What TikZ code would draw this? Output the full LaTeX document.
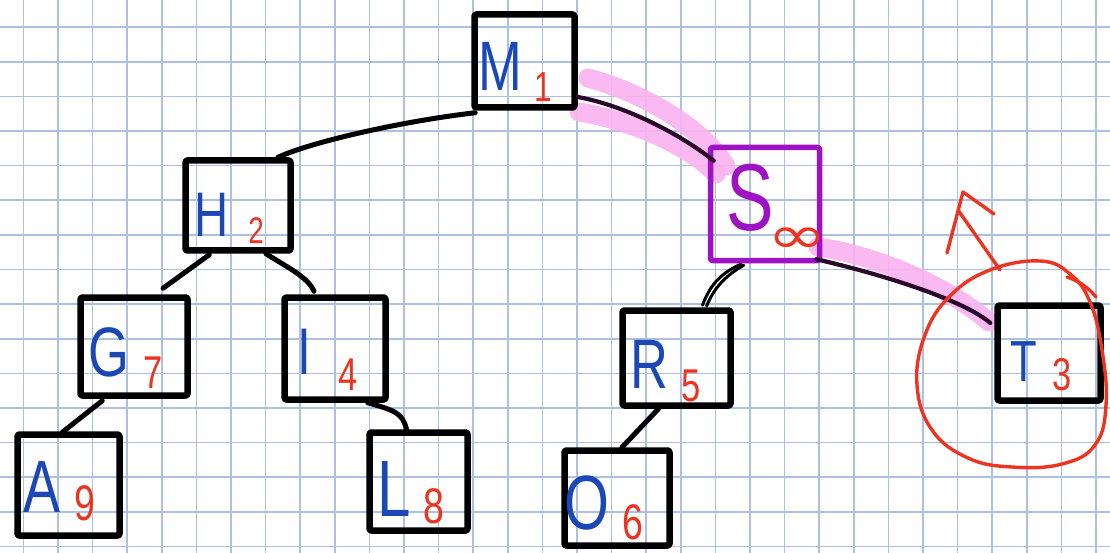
\documentclass[tikz,border=0pt]{standalone}
\usepackage{fontspec}
\setmainfont[FakeStretch=0.75]{Liberation Sans}
\newfontfamily\symfont{DejaVu Sans}
\usetikzlibrary{calc}
\definecolor{gridblue}{RGB}{172,192,226}
\definecolor{inkblue}{RGB}{28,72,182}
\definecolor{inkred}{RGB}{236,52,32}
\definecolor{inkpurple}{RGB}{158,18,196}
\definecolor{hilite}{RGB}{250,178,240}
\definecolor{darkink}{RGB}{42,8,42}
\begin{document}
\begin{tikzpicture}[x=1pt,y=-1pt,
  gridline/.style={draw=gridblue, line width=1.6pt},
  box/.style={draw=black, line width=6.5pt, rounded corners=2pt, inner sep=0pt, line join=round},
  sbox/.style={box, draw=inkpurple, line width=5.5pt},
  edge/.style={draw=black, line width=5pt, line cap=round},
  thinedge/.style={draw=black, line width=3pt, line cap=round},
  markedge/.style={draw=darkink, line width=4.2pt, line cap=round},
  marker/.style={draw=hilite, line width=19pt, line cap=round, opacity=0.9},
  redpen/.style={draw=inkred, line width=3.4pt, line cap=round, line join=round},
  lt/.style={text=inkblue, inner sep=0pt, font=\fontsize{#1}{#1}\selectfont},
  nm/.style={text=inkred, inner sep=0pt, font=\fontsize{#1}{#1}\selectfont}
]
\useasboundingbox (0,0) rectangle (1110,553);
\fill[white] (0,0) rectangle (1110,553);

% squared paper
\foreach \i in {0,...,31}
  \draw[gridline] ({23.3+34.6*\i},0) -- ({23.3+34.6*\i},553);
\foreach \j in {0,...,15}
  \draw[gridline] (0,{27.3+34.6*\j}) -- (1110,{27.3+34.6*\j});

% highlighter strokes along the marked path
\draw[marker] (588,78) .. controls (640,92) and (700,125) .. (726,166);
\draw[marker] (579,112) .. controls (630,120) and (690,146) .. (716,174);
\draw[marker] (818,247) .. controls (880,256) and (950,288) .. (989,322);

% tree nodes
\node[box, minimum width=100pt, minimum height=93pt] (M) at (524.5,61) {};
\node[box, minimum width=105pt, minimum height=90pt] (H) at (238,205.5) {};
\node[sbox, minimum width=109pt, minimum height=113pt] (S) at (765,204) {};
\node[box, minimum width=107pt, minimum height=98pt] (G) at (134,346.5) {};
\node[box, minimum width=101pt, minimum height=102pt] (I) at (335,348.5) {};
\node[box, minimum width=102pt, minimum height=101pt] (A) at (68.5,485) {};
\node[box, minimum width=98pt, minimum height=98pt] (L) at (418.5,481.5) {};
\node[box, minimum width=108pt, minimum height=95pt] (R) at (676.5,358) {};
\node[box, minimum width=105pt, minimum height=95pt] (O) at (617,498) {};
\node[box, minimum width=103pt, minimum height=95pt] (T) at (1049,353) {};

% keys and priorities
\node[lt=70] (kM) at (500,66) {M};   \node[nm=42] (pM) at (543,87) {1};
\node[lt=63] (kH) at (212,215) {H};  \node[nm=37] (pH) at (256,231) {2};
\node[lt=95, text=inkpurple] (kS) at (750,198) {S};
\node[nm=48, font=\symfont\fontsize{48}{48}\selectfont] (pS) at (797,241) {\scalebox{1.5}[1.1]{∞}};
\node[lt=70] (kG) at (109,352) {G};  \node[nm=46] (pG) at (153,373) {7};
\node[lt=66] (kI) at (304,352) {I};  \node[nm=46] (pI) at (348,375) {4};
\node[lt=74] (kA) at (42,487) {A};   \node[nm=50] (pA) at (85,503) {9};
\node[lt=80] (kL) at (394,489) {L};  \node[nm=50] (pL) at (434,506) {8};
\node[lt=70] (kR) at (649,364) {R};  \node[nm=46] (pR) at (691,386) {5};
\node[lt=77] (kO) at (587,503) {O};  \node[nm=50] (pO) at (633,522) {6};
\node[lt=58] (kT) at (1024,362) {T}; \node[nm=46] (pT) at (1062,375) {3};

% tree edges
\draw[edge] ($(H.north)+(40,0)$) .. controls +(35,-16) and +(-70,8) .. ($(M.south west)+(4,2)$);
\draw[edge] ($(H.south west)+(27,1)$) -- ($(G.north)+(29,-6)$);
\draw[edge] ($(H.south)+(28,0)$) .. controls +(22,14) and +(-6,-14) .. ($(I.north)+(-21,-3)$);
\draw[edge] ($(G.south west)+(25,2)$) -- ($(A.north west)+(48,1)$);
\draw[edge] ($(I.south east)+(-21,0)$) .. controls +(28,8) and +(-4,-16) .. ($(L.north)+(-12,0)$);
\draw[edge] ($(R.south)+(-18,0)$) -- ($(O.north)+(5,0)$);
\draw[thinedge] ($(R.north)+(26,-2)$) .. controls +(8,-22) and +(-18,8) .. ($(S.south west)+(33,1)$);
\draw[thinedge] ($(R.north)+(30,-1)$) .. controls +(8,-20) and +(-16,9) .. ($(S.south west)+(36,2)$);

% marked path M - S - T
\draw[markedge] ($(M.east)+(0,36)$) .. controls +(45,8) and +(-35,-28) .. ($(S.north west)+(6,16)$);
\draw[markedge] ($(S.south east)+(-6,-4)$) .. controls +(70,16) and +(-25,-22) .. ($(T.west)+(-4,-30)$);

% red loop around T with arrow
\draw[redpen] plot[smooth cycle, tension=0.7] coordinates {(1040,261) (990,270) (950,296) (925,335) (917,385) (932,430) (968,458) (1012,467) (1062,464) (1095,445) (1106,405) (1102,350) (1090,302) (1070,274)};
\draw[redpen] (1067,277) .. controls (1082,282) and (1090,290) .. (1096,297);
\coordinate (arrowtail) at (1000,270);
\coordinate (arrowtip) at (963,192);
\draw[redpen] (arrowtail) -- (958,210);
\draw[redpen] (947,253) -- (arrowtip) -- (994,214);
\end{tikzpicture}
\end{document}
